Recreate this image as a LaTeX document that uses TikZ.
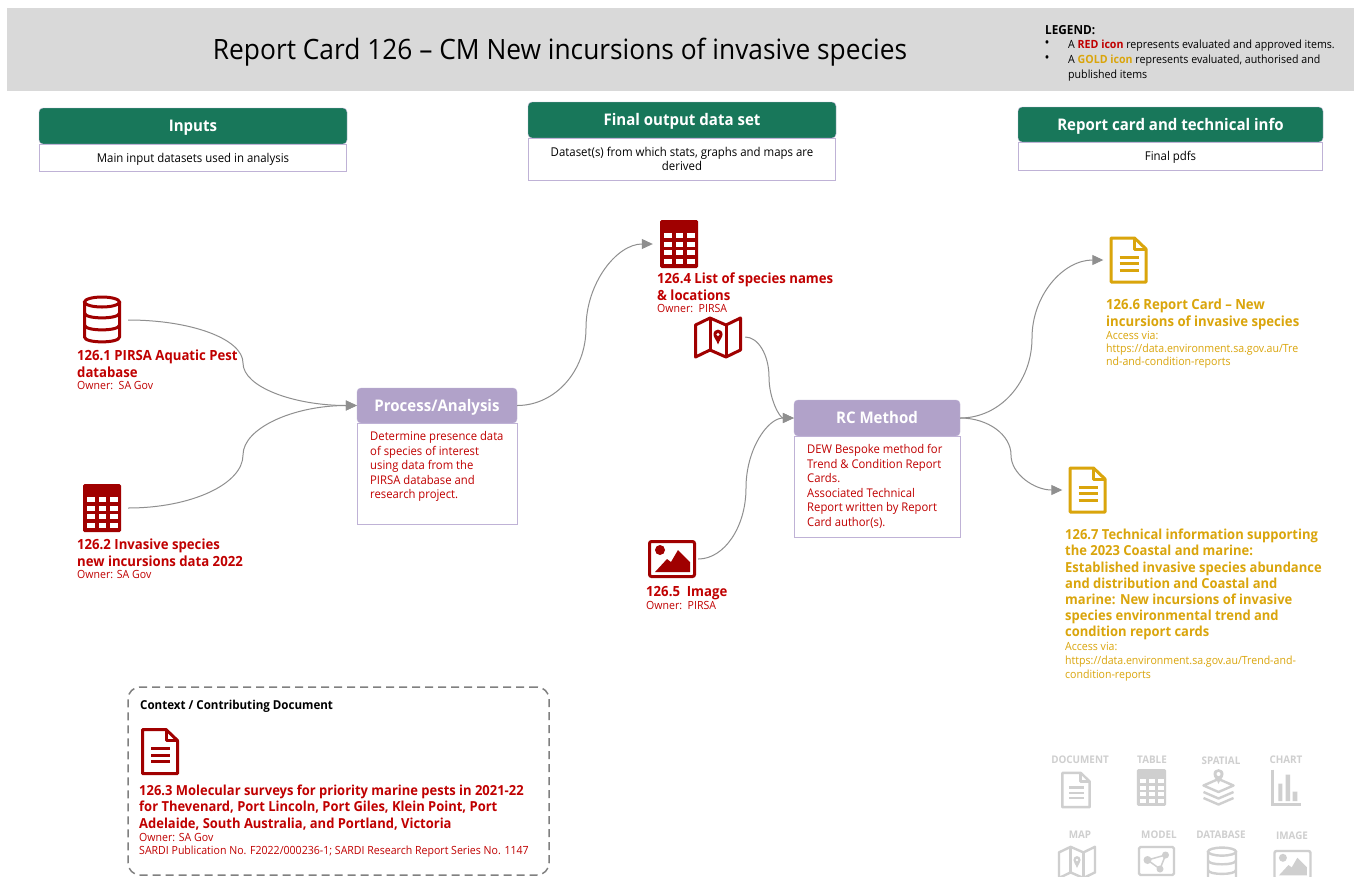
\documentclass[tikz,border=0pt]{standalone}
\usepackage{fontspec}
\setmainfont[FakeStretch=0.94]{Open Sans}
\usetikzlibrary{arrows.meta}
\definecolor{barback}{HTML}{D9D9D9}
\definecolor{headgreen}{HTML}{18775A}
\definecolor{lilac}{HTML}{B1A2C9}
\definecolor{lilacline}{HTML}{BFB2D6}
\definecolor{iconred}{HTML}{A00000}
\definecolor{labelred}{HTML}{C00000}
\definecolor{goldtext}{HTML}{DAA50C}
\definecolor{flowgray}{HTML}{8F8F8F}
\definecolor{legendgray}{HTML}{CFCFCF}
\newcommand{\ownerfont}{\mdseries\fontsize{11.25}{13}\selectfont}
\tikzset{
headbar/.style={draw=lilacline,fill=headgreen,rounded corners=4pt,text=white,inner sep=0pt,text height=14.5pt,text depth=3pt,font=\bfseries\fontsize{16}{18}\selectfont},
stepbar/.style={draw=lilacline,fill=lilac,rounded corners=4pt,text=white,inner sep=0pt,minimum height=35pt,text height=14.5pt,text depth=3pt,font=\bfseries\fontsize{16}{18}\selectfont},
descbox/.style={draw=lilacline,fill=white,align=center,inner sep=0pt,font=\fontsize{12.15}{14.5}\selectfont},
stepbox/.style={draw=lilacline,fill=white,inner sep=0pt},
steptext/.style={anchor=north west,inner sep=0pt,align=left,text=labelred,font=\fontsize{12}{14.5}\selectfont},
redlabel/.style={anchor=north west,inner sep=0pt,align=left,text=labelred,font=\bfseries\fontsize{14}{16.2}\selectfont},
goldlabel/.style={redlabel,text=goldtext},
slot/.style={minimum width=52pt,minimum height=48pt,inner sep=0pt},
flow/.style={draw=flowgray,line width=1pt,-{Triangle[length=11pt,width=10pt]}},
grayname/.style={inner sep=0pt,text=legendgray,font=\bfseries\fontsize{10.5}{12}\selectfont},
redicon/.style={color=iconred,line width=3pt},
goldicon/.style={color=goldtext,line width=3pt},
grayicon/.style={color=legendgray,line width=2.4pt},
docicon/.pic={
\draw[line join=round] (-17.5,-22)--(6,-22)--(17.5,-11)--(17.5,22)--(-17.5,22)--cycle;
\draw[line join=round] (6,-22)--(6,-11)--(17.5,-11);
\draw (-9,-3)--(10,-3) (-9,3.5)--(10,3.5) (-9,10)--(10,10);
},
tableicon/.pic={
\fill[rounded corners=1.5pt] (-19,-24) rectangle (19,24);
\fill[white] (-15.5,-11) rectangle (16,20);
\draw[line width=1.1\pgflinewidth] (-5.3,-11)--(-5.3,20) (6.3,-11)--(6.3,20) (-15.5,-4)--(16,-4) (-15.5,4.5)--(16,4.5) (-15.5,13)--(16,13);
},
dbicon/.pic={
\draw (0,-18) ellipse [x radius=17.5pt,y radius=5pt];
\draw (-17.5,-18)--(-17.5,17) .. controls (-17.5,23.5) and (17.5,23.5) .. (17.5,17)--(17.5,-18);
\draw (-17.5,-7) .. controls (-17.5,-0.5) and (17.5,-0.5) .. (17.5,-7);
\draw (-17.5,5) .. controls (-17.5,11.5) and (17.5,11.5) .. (17.5,5);
},
mapicon/.pic={
\draw[line join=round] (-22.5,-12)--(-8,-19)--(8,-12)--(22.5,-19)--(22.5,13)--(8,20)--(-8,13)--(-22.5,20)--cycle;
\draw (-8,-19)--(-8,13) (8,-12)--(8,20);
\fill (0,7.5) .. controls (-1.5,3) and (-4.5,0.5) .. (-4.5,-2.5) .. controls (-4.5,-9) and (4.5,-9) .. (4.5,-2.5) .. controls (4.5,0.5) and (1.5,3) .. cycle;
\fill[white] (0,-2.5) circle (1.7pt);
},
imgicon/.pic={
\draw[rounded corners=2pt] (-22.5,-17.5) rectangle (22.5,17.5);
\fill (-12,-9) circle (5pt);
\fill (-17,13)--(-5,0)--(-1,3)--(6,-9)--(18,3)--(18,13)--cycle;
},
modelicon/.pic={
\draw[rounded corners=1.5pt] (-17.5,-14) rectangle (17.5,14);
\fill (-9,-1) circle (4pt) (9,-6) circle (3.5pt) (3.5,8) circle (3.5pt);
\draw[line width=1.5pt] (-9,-1)--(9,-6)--(3.5,8)--cycle;
},
spatialicon/.pic={
\draw[line join=round] (-15,-1.5)--(0,-8)--(15,-1.5)--(0,5)--cycle;
\draw[line join=round] (-15,5)--(0,11.5)--(15,5);
\draw[line join=round] (-15,11)--(0,17.5)--(15,11);
\fill (0,-3) .. controls (-1,-7) and (-5,-9) .. (-5,-13) .. controls (-5,-19.5) and (5,-19.5) .. (5,-13) .. controls (5,-9) and (1,-7) .. cycle;
\fill[white] (0,-13) circle (2pt);
},
charticon/.pic={
\draw (-14,-18)--(-14,17)--(14,17);
\fill (-8.2,-4) rectangle (-4.2,13.5) (-0.8,-13) rectangle (3.5,13.5) (6.2,4) rectangle (10.8,13.5);
}
}
\begin{document}
\begin{tikzpicture}[x=1pt,y=-1pt]
\clip (0,0) rectangle (1359,876);
\fill[white] (0,0) rectangle (1359,876);
\fill[barback] (7,8) rectangle (1354,91);
\node[inner sep=0pt,font=\fontsize{28}{32}\selectfont] (maintitle) at (560,52.5) {Report Card 126 -- CM New incursions of invasive species};
\node[anchor=north west,inner sep=0pt,font=\bfseries\fontsize{12.5}{14}\selectfont] (legendhead) at (1045,25) {LEGEND:};
\node[anchor=north west,inner sep=0pt,align=left,font=\fontsize{11.3}{14.7}\selectfont] (legendtext) at (1068,40) {A {\bfseries\color{labelred}RED icon} represents evaluated and approved items.\\A {\bfseries\color{goldtext}GOLD icon} represents evaluated, authorised and\\published items};
\node[inner sep=0pt,font=\fontsize{14}{14}\selectfont] (legendbulletone) at (1047,44.5) {•};
\node[inner sep=0pt,font=\fontsize{14}{14}\selectfont] (legendbullettwo) at (1047,59.5) {•};

\node[headbar,minimum width=308pt,minimum height=36pt] (inputshead) at (193,126) {Inputs};
\node[descbox,minimum width=307pt,minimum height=27pt,text height=9pt,text depth=0pt] (inputsdesc) at (193,157.5) {Main input datasets used in analysis};
\node[headbar,minimum width=308pt,minimum height=36pt] (finalhead) at (682,120) {Final output data set};
\node[descbox,minimum width=307pt,minimum height=42pt] (finaldesc) at (682,159) {Dataset(s) from which stats, graphs and maps are\\derived};
\node[headbar,minimum width=305pt,minimum height=35pt] (reporthead) at (1170.5,124.5) {Report card and technical info};
\node[descbox,minimum width=304pt,minimum height=28pt,text height=9pt,text depth=0pt] (reportdesc) at (1170.5,156) {Final pdfs};

\node[slot] (dbinput) at (102,320) {};
\node[slot] (tableinput) at (102,508) {};
\node[slot] (tablefinal) at (679,244) {};
\node[slot,minimum width=54pt] (mapfinal) at (718,337) {};
\node[slot] (imagefinal) at (672,559) {};
\node[slot,minimum width=50pt] (docreport) at (1128.5,260) {};
\node[slot,minimum width=50pt] (doctech) at (1087.5,490) {};
\node[stepbar,minimum width=160pt] (procbar) at (437,405.5) {Process/Analysis};
\node[stepbox,minimum width=160pt,minimum height=101pt] (procbox) at (437,473.5) {};
\node[stepbar,minimum width=166pt,minimum height=36pt] (rcbar) at (877,418) {RC Method};
\node[stepbox,minimum width=166pt,minimum height=101pt] (rcbox) at (877,486.5) {};
\coordinate (dbbend) at (243,363);
\coordinate (tablebend) at (243,455);
\coordinate (procbend) at (586,328);
\coordinate (mapbend) at (769,377);
\coordinate (imagebend) at (746,488);
\coordinate (reportbend) at (1032,338);
\coordinate (techbend) at (1011,455);
\draw[flow] (dbinput.east) .. controls +(63,0) and +(0,-24) .. (dbbend) .. controls +(0,24) and +(-63,0) .. (procbar.west);
\draw[flow] (tableinput.east) .. controls +(63,0) and +(0,29) .. (tablebend) .. controls +(0,-27) and +(-63,0) .. (procbar.west);
\draw[flow] (procbar.east) .. controls +(38,0) and +(0,43) .. (procbend) .. controls +(0,-45) and +(-36,0) .. (tablefinal.west);
\draw[flow] (mapfinal.east) .. controls +(13,0) and +(0,-22) .. (mapbend) .. controls +(0,22) and +(-14,0) .. (rcbar.west);
\draw[flow] (imagefinal.east) .. controls +(26,0) and +(0,39) .. (imagebend) .. controls +(0,-39) and +(-26,0) .. (rcbar.west);
\draw[flow] (rcbar.east) .. controls +(40,0) and +(0,44) .. (reportbend) .. controls +(0,-43) and +(-40,0) .. (docreport.west);
\draw[flow] (rcbar.east) .. controls +(28,0) and +(0,-20) .. (techbend) .. controls +(0,19) and +(-28,0) .. (doctech.west);

\pic[redicon] at (dbinput) {dbicon};
\pic[redicon] at (tableinput) {tableicon};
\pic[redicon] at (tablefinal) {tableicon};
\pic[redicon] at (mapfinal) {mapicon};
\pic[redicon] at (imagefinal) {imgicon};
\pic[goldicon] at (docreport) {docicon};
\pic[goldicon] at (doctech) {docicon};

\node[redlabel] (dbtext) at (77,350) {126.1 PIRSA Aquatic Pest\\database\\[-3.5pt]{\ownerfont Owner:\ \ SA Gov}};
\node[redlabel] (tabletext) at (77,539) {126.2 Invasive species\\new incursions data 2022\\[-3.5pt]{\ownerfont Owner: SA Gov}};
\node[redlabel] (listtext) at (657,273) {126.4 List of species names\\\& locations\\[-3.5pt]{\ownerfont Owner:\ \ PIRSA}};
\node[redlabel] (imagetext) at (646,586) {126.5\ \ Image\\[-3pt]{\ownerfont Owner:\ \ PIRSA}};
\node[steptext] (proctext) at (370,431.5) {Determine presence data\\of species of interest\\using data from the\\PIRSA database and\\research project.};
\node[steptext] (rctext) at (807,444.5) {DEW Bespoke method for\\Trend \& Condition Report\\Cards.\\Associated Technical\\Report written by Report\\Card author(s).};
\node[goldlabel] (reporttext) at (1106,299) {126.6 Report Card -- New\\incursions of invasive species\\[-3pt]{\ownerfont Access via:}\\[-3.2pt]{\ownerfont https://data.environment.sa.gov.au/Tre}\\[-3.2pt]{\ownerfont nd-and-condition-reports}};
\node[goldlabel,font=\bfseries\fontsize{13.8}{16.2}\selectfont] (techtext) at (1065,529) {126.7 Technical information supporting\\the 2023 Coastal and marine:\\Established invasive species abundance\\and distribution and Coastal and\\marine: New incursions of invasive\\species environmental trend and\\condition report cards\\[-2.5pt]{\ownerfont Access via:}\\[-2.5pt]{\ownerfont https://data.environment.sa.gov.au/Trend-and-}\\[-2.5pt]{\ownerfont condition-reports}};

\node[draw=gray,line width=1.5pt,dash pattern=on 8pt off 5pt,rounded corners=12pt,minimum width=421pt,minimum height=188pt,inner sep=0pt] (contextbox) at (338.5,781) {};
\node[anchor=north west,inner sep=0pt,font=\bfseries\fontsize{12.3}{14}\selectfont] (contexthead) at (140,700) {Context / Contributing Document};
\node[slot] (doccontext) at (160,751.5) {};
\pic[redicon] at (doccontext) {docicon};
\node[redlabel,font=\bfseries\fontsize{13.8}{16.2}\selectfont] (contexttext) at (139,785) {126.3 Molecular surveys for priority marine pests in 2021-22\\for Thevenard, Port Lincoln, Port Giles, Klein Point, Port\\Adelaide, South Australia, and Portland, Victoria\\[-2.5pt]{\ownerfont Owner: SA Gov}\\[-3.2pt]{\ownerfont SARDI Publication No. F2022/000236-1; SARDI Research Report Series No. 1147}};

\node[grayname] (docname) at (1080,760) {DOCUMENT};
\node[grayname] (tablename) at (1152,760) {TABLE};
\node[grayname] (spatialname) at (1221,761) {SPATIAL};
\node[grayname] (chartname) at (1286,760) {CHART};
\node[grayname] (mapname) at (1080,834.5) {MAP};
\node[grayname] (modelname) at (1159,834.5) {MODEL};
\node[grayname] (databasename) at (1221,834.5) {DATABASE};
\node[grayname] (imagename) at (1292,836) {IMAGE};
\pic[grayicon,scale=0.78] at (1076,790) {docicon};
\pic[grayicon,scale=0.77] at (1151.5,787.5) {tableicon};
\pic[grayicon] at (1218.5,787) {spatialicon};
\pic[grayicon] at (1286.5,787.5) {charticon};
\pic[grayicon,scale=0.8] at (1077,862) {mapicon};
\pic[grayicon] at (1156.5,861) {modelicon};
\pic[grayicon,scale=0.8] at (1222,866) {dbicon};
\pic[grayicon,scale=0.8] at (1292.5,865) {imgicon};
\end{tikzpicture}
\end{document}
